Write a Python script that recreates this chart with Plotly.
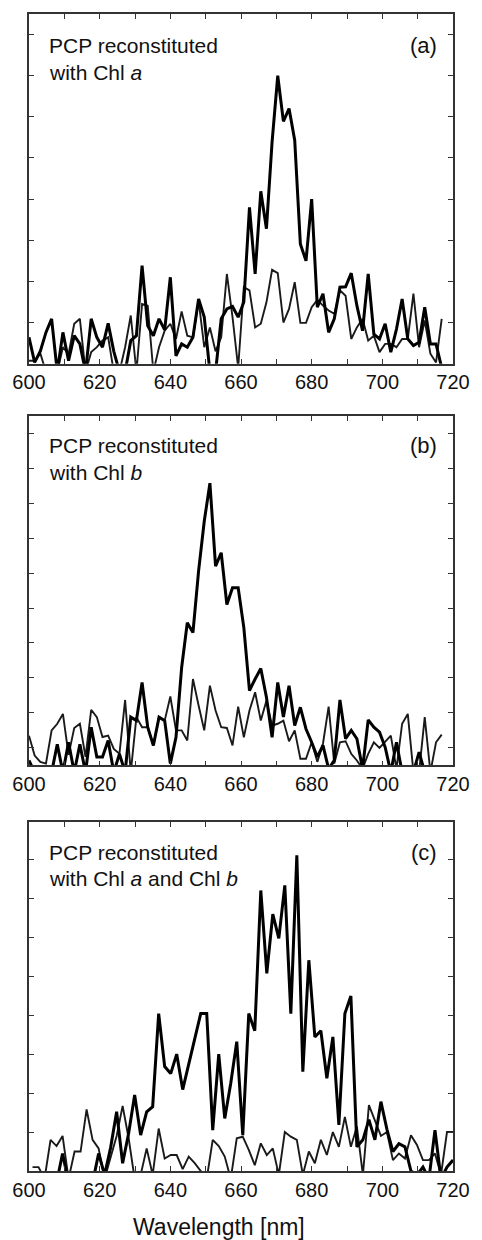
import plotly.graph_objects as go

# ---------------- data ----------------
wl_ab = [600.0, 601.6, 603.2, 604.8, 606.4, 608.0, 609.6, 611.2, 612.8, 614.4,
         616.0, 617.6, 619.2, 620.8, 622.4, 624.0, 625.6, 627.2, 628.8, 630.4,
         632.0, 633.6, 635.2, 636.8, 638.4, 640.0, 641.6, 643.2, 644.8, 646.4,
         648.0, 649.6, 651.2, 652.8, 654.4, 656.0, 657.6, 659.2, 660.8, 662.4,
         664.0, 665.6, 667.2, 668.8, 670.4, 672.0, 673.6, 675.2, 676.8, 678.4,
         680.0, 681.6, 683.2, 684.8, 686.4, 688.0, 689.6, 691.2, 692.8, 694.4,
         696.0, 697.6, 699.2, 700.8, 702.4, 704.0, 705.6, 707.2, 708.8, 710.4,
         712.0, 713.6, 715.2, 716.8]

wl_c = [601.0, 602.7, 604.4, 606.1, 607.8, 609.5, 611.2, 612.9, 614.6, 616.3,
        618.0, 619.7, 621.4, 623.1, 624.8, 626.5, 628.2, 629.9, 631.6, 633.3,
        635.0, 636.7, 638.4, 640.1, 641.8, 643.5, 645.2, 646.9, 648.6, 650.3,
        652.0, 653.7, 655.4, 657.1, 658.8, 660.5, 662.2, 663.9, 665.6, 667.3,
        669.0, 670.7, 672.4, 674.1, 675.8, 677.5, 679.2, 680.9, 682.6, 684.3,
        686.0, 687.7, 689.4, 691.1, 692.8, 694.5, 696.2, 697.9, 699.6, 701.3,
        703.0, 704.7, 706.4, 708.1, 709.8, 711.5, 713.2, 714.9, 716.6, 718.3,
        720.0]

a_thick = [0.64, 0.03, 0.3, 0.76, 1.09, -0.2, 0.76, 0.07, 0.68, 0.48,
           -0.2, 1.09, 0.64, 0.4, 0.98, 0.3, -0.2, -0.2, 0.56, 0.68,
           2.38, 0.92, 0.68, 1.09, 0.82, 2.1, 0.19, 0.48, 0.4, 0.64,
           1.57, 1.13, -0.2, -0.2, 1.09, 1.33, 1.39, 1.13, 1.5, 3.8,
           2.18, 4.19, 3.28, 5.39, 7.0, 5.89, 6.2, 5.43, 2.91, 2.5,
           4.0, 1.37, 1.7, 0.76, 1.09, 1.86, 1.87, 2.2, 1.41, 0.8,
           2.18, 0.72, 0.6, 0.97, 0.28, 0.84, 1.57, 0.6, 0.44, 0.52,
           1.37, 0.48, 0.48, -0.1]

a_thin = [0.07, 0.07, 0.25, -0.2, -0.2, -0.2, 0.4, 0.23, 0.97, 1.09,
          -0.2, 0.28, 0.4, 0.56, 0.64, -0.2, -0.2, 0.4, 1.17, -0.2,
          1.45, 1.41, -0.2, 0.4, 0.8, 0.97, 0.6, 1.27, 0.68, 0.64,
          1.53, 0.4, 0.88, 0.3, 0.64, 2.18, 1.13, -0.1, 1.86, 1.78,
          0.88, 0.97, 1.49, 2.28, 2.2, 1.0, 1.33, 1.98, 0.99, 0.99,
          1.37, 1.55, 1.41, 1.29, 1.21, 1.78, 1.65, 0.6, 0.88, 1.09,
          0.56, 0.68, 0.28, 0.48, 0.48, 0.4, 0.6, 0.6, 1.7, 0.4,
          1.05, 0.24, 0.03, 1.09]

b_thick = [0.14, -0.2, -0.3, -0.3, -0.2, 0.6, -0.2, 0.66, -0.2, 0.6,
           -0.2, 1.09, 0.24, 0.24, 0.71, -0.2, 0.33, -0.2, 1.38, 1.28,
           2.37, 1.09, 0.57, 1.38, 1.28, 0.05, 0.8, 2.8, 4.08, 3.8,
           5.56, 6.98, 8.07, 5.7, 6.08, 4.6, 5.08, 5.08, 3.94, 2.14,
           2.47, 2.77, 1.95, 0.8, 2.37, 1.38, 2.28, 1.14, 1.66, 1.04,
           0.66, 0.24, 0.57, -0.1, 0.14, 1.87, 0.76, 1.0, 0.76, -0.1,
           1.3, 1.09, 0.95, 0.52, -0.2, 0.66, -0.2, -0.3, -0.2, 0.38,
           -0.2, -0.3, -0.3, -0.3]

b_thin = [0.85, 0.28, 0.1, 0.05, 1.0, 1.19, 1.47, 0.3, 1.07, 1.19,
          0.24, 1.59, 1.38, 0.81, 0.85, 0.47, 0.33, 1.87, -0.2, 1.38,
          1.09, 1.09, 0.57, 1.38, 1.28, 1.97, 1.0, 1.0, 0.71, 2.47,
          1.71, 1.0, 2.28, 1.57, 1.09, 1.07, 0.57, 1.68, 0.8, 1.57,
          2.09, 1.28, 1.85, 1.14, 1.19, 1.28, 0.69, 1.0, 0.19, 0.19,
          0.66, 0.1, 0.62, 1.68, 0.05, 0.66, 0.69, 0.33, 0.14, -0.1,
          0.33, 0.66, 0.5, 0.66, 0.85, -0.1, 1.19, 1.47, -0.2, -0.2,
          1.38, -0.2, 0.66, 0.88]

c_thick = [-0.3, -0.3, -0.3, -0.3, -0.3, 0.45, -0.3, -0.3, -0.3, -0.3,
           -0.3, 0.45, -0.1, 0.6, 1.52, 0.2, 0.97, 1.95, 0.92, 1.52,
           1.65, 4.04, 2.68, 2.5, 3.0, 2.09, 2.72, 3.4, 4.04, 4.04,
           1.05, 3.0, 1.35, 2.25, 3.32, 0.92, 4.04, 3.6, 7.2, 5.07,
           6.59, 5.97, 7.33, 4.04, 8.1, 2.55, 5.41, 3.44, 3.6, 2.38,
           3.44, 1.18, 4.04, 4.49, 0.62, 0.8, 1.32, 0.8, 1.78, 1.07,
           0.5, 0.7, 0.62, 0.0, -0.1, 0.1, -0.2, 1.05, -0.2, 0.1,
           0.28]

c_thin = [0.1, 0.1, -0.2, 0.8, 0.64, 0.9, -0.2, 0.5, 0.5, 1.58,
          0.8, 0.58, -0.2, 0.37, 0.9, 1.67, 0.84, -0.2, -0.1, 0.58,
          -0.1, 1.09, 0.32, 0.41, 0.41, 0.05, 0.37, 0.2, 0.0, -0.2,
          0.8, 0.64, 0.37, -0.2, 0.84, 0.88, 0.54, 0.15, 0.71, 0.41,
          0.58, -0.1, 1.0, 0.88, 0.8, -0.1, 0.5, 0.2, 0.8, 0.41,
          1.0, 0.62, 1.39, 0.62, 1.14, -0.1, 1.69, 1.31, 0.9, 1.0,
          0.28, 0.45, 0.32, 0.92, 0.67, 0.28, 0.28, 0.45, -0.1, 1.0,
          1.0]

x_tickvals = [600, 610, 620, 630, 640, 650, 660, 670, 680, 690, 700, 710, 720]
x_ticktext = ["600", "", "620", "", "640", "", "660", "", "680", "", "700", "", "720"]

y_ticks_a = [1, 2, 3, 4, 5, 6, 7, 8]
y_ticks_b = [0.5, 1.5, 2.5, 3.5, 4.5, 5.5, 6.5, 7.5, 8.5, 9.5]
y_ticks_c = [1, 2, 3, 4, 5, 6, 7, 8]

panel_tags = ["(a)", "(b)", "(c)"]
panel_line1 = ["PCP reconstituted", "PCP reconstituted", "PCP reconstituted"]
panel_line2 = ["with Chl <i>a</i>", "with Chl <i>b</i>", "with Chl <i>a</i> and Chl <i>b</i>"]
x_title = "Wavelength [nm]"

assert len(wl_ab) == len(a_thick) == len(a_thin) == len(b_thick) == len(b_thin)
assert len(wl_c) == len(c_thick) == len(c_thin)

# ---------------- figure ----------------
FONT = "Liberation Sans, Arial, Helvetica, sans-serif"
AX = "#333333"
TXT = "#111111"

fig = go.Figure()
panels = [
    ("", wl_ab, a_thick, a_thin, [0, 8.5], y_ticks_a, [0.6978, 1.0]),
    ("2", wl_ab, b_thick, b_thin, [0, 10], y_ticks_b, [0.3506, 0.6528]),
    ("3", wl_c, c_thick, c_thin, [0, 8.95], y_ticks_c, [0.0, 0.3014]),
]

layout = dict(
    width=482, height=1240,
    margin=dict(l=26, r=17, t=13, b=69),
    paper_bgcolor="white", plot_bgcolor="white",
    showlegend=False,
    font=dict(family=FONT, color=TXT),
)

for s, xs, thick, thin, yr, yt, dom in panels:
    fig.add_trace(go.Scatter(x=xs, y=thin, mode="lines",
                             line=dict(color="#1a1a1a", width=1.9),
                             xaxis="x" + s, yaxis="y" + s, hoverinfo="skip"))
    fig.add_trace(go.Scatter(x=xs, y=thick, mode="lines",
                             line=dict(color="#000000", width=3.0),
                             xaxis="x" + s, yaxis="y" + s, hoverinfo="skip"))
    layout["xaxis" + s] = dict(
        domain=[0, 1], anchor="y" + s, range=[600, 720],
        tickmode="array", tickvals=x_tickvals, ticktext=x_ticktext,
        ticks="inside", ticklen=5, tickwidth=1.3, tickcolor=AX,
        showline=True, linecolor=AX, linewidth=1.6, mirror="ticks",
        showgrid=False, zeroline=False,
        tickfont=dict(size=20, family=FONT, color=TXT),
    )
    layout["yaxis" + s] = dict(
        domain=dom, anchor="x" + s, range=yr,
        tickmode="array", tickvals=yt, showticklabels=False,
        ticks="inside", ticklen=5, tickwidth=1.3, tickcolor=AX,
        showline=True, linecolor=AX, linewidth=1.6, mirror="ticks",
        showgrid=False, zeroline=False,
    )

fig.update_layout(**layout)

ann = []
y1 = [0.9724, 0.6269, 0.2755]
y2 = [0.9491, 0.6036, 0.2530]
for k in range(3):
    ann.append(dict(x=0.0433, y=y1[k], xref="paper", yref="paper", text=panel_line1[k],
                    showarrow=False, xanchor="left", yanchor="middle",
                    font=dict(size=21, family=FONT, color=TXT)))
    ann.append(dict(x=0.0433, y=y2[k], xref="paper", yref="paper", text=panel_line2[k],
                    showarrow=False, xanchor="left", yanchor="middle",
                    font=dict(size=21, family=FONT, color=TXT)))
    ann.append(dict(x=0.966, y=y1[k], xref="paper", yref="paper", text=panel_tags[k],
                    showarrow=False, xanchor="right", yanchor="middle",
                    font=dict(size=22, family=FONT, color=TXT)))
ann.append(dict(x=0.4487, y=-0.0484, xref="paper", yref="paper", text=x_title,
                showarrow=False, xanchor="center", yanchor="middle",
                font=dict(size=23, family=FONT, color=TXT)))
fig.update_layout(annotations=ann)

fig.write_html("out.html")
